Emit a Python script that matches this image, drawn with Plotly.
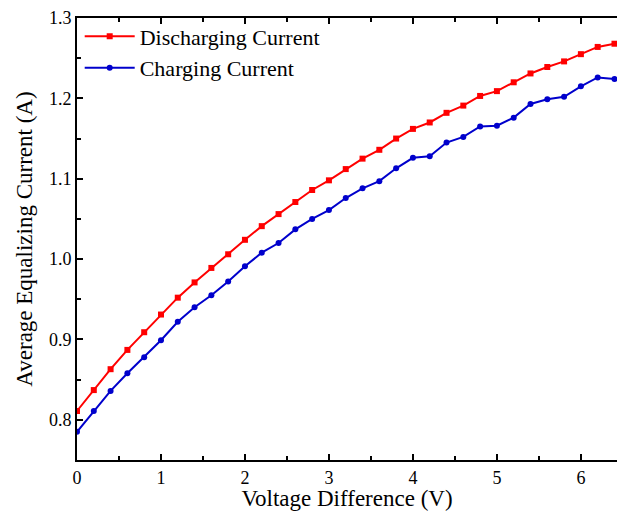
import plotly.graph_objects as go

voltage = [0.0, 0.2, 0.4, 0.6, 0.8, 1.0, 1.2, 1.4, 1.6, 1.8, 2.0, 2.2, 2.4, 2.6, 2.8,
           3.0, 3.2, 3.4, 3.6, 3.8, 4.0, 4.2, 4.4, 4.6, 4.8, 5.0, 5.2, 5.4, 5.6, 5.8,
           6.0, 6.2, 6.4]
discharging = [0.811, 0.837, 0.863, 0.887, 0.909, 0.931, 0.952, 0.971, 0.989, 1.006,
               1.024, 1.041, 1.056, 1.071, 1.086, 1.098, 1.112, 1.125, 1.136, 1.150,
               1.162, 1.170, 1.182, 1.191, 1.203, 1.209, 1.220, 1.231, 1.239, 1.246,
               1.255, 1.264, 1.268]
charging = [0.785, 0.811, 0.836, 0.858, 0.878, 0.899, 0.922, 0.940, 0.955, 0.972,
            0.991, 1.008, 1.020, 1.037, 1.050, 1.061, 1.076, 1.088, 1.097, 1.113,
            1.126, 1.128, 1.145, 1.152, 1.165, 1.166, 1.176, 1.193, 1.199, 1.202,
            1.215, 1.226, 1.224]

FONT = "Liberation Serif"

fig = go.Figure()
fig.add_trace(go.Scatter(x=voltage, y=discharging, mode="lines+markers",
                         name="Discharging Current",
                         line=dict(color="#ff0000", width=2),
                         marker=dict(symbol="square", size=6, color="#ff0000")))
fig.add_trace(go.Scatter(x=voltage, y=charging, mode="lines+markers",
                         name="Charging Current",
                         line=dict(color="#0000cc", width=2),
                         marker=dict(symbol="circle", size=6, color="#0000cc")))

fig.update_layout(
    width=617, height=511,
    margin=dict(l=77, r=0, t=18, b=51),
    paper_bgcolor="white", plot_bgcolor="white",
    font=dict(family=FONT, color="black", size=18),
    showlegend=True,
    legend=dict(x=0.005, y=1.006, xanchor="left", yanchor="top",
                bgcolor="rgba(0,0,0,0)", font=dict(family=FONT, size=22),
                tracegroupgap=0, itemwidth=50),
    xaxis=dict(range=[0, 6.43], tickmode="array", tickvals=[0, 1, 2, 3, 4, 5, 6],
               ticks="inside", ticklen=6, tickwidth=1.5, tickcolor="black",
               showline=True, linecolor="black", linewidth=2, mirror="ticks",
               showgrid=False, zeroline=False,
               minor=dict(dtick=0.5, ticks="inside", ticklen=4, tickcolor="black", tickwidth=1.5),
               tickfont=dict(family=FONT, size=18),
               title=dict(text="Voltage Difference (V)", font=dict(family=FONT, size=23), standoff=4)),
    yaxis=dict(range=[0.75, 1.3], tickmode="array",
               tickvals=[0.8, 0.9, 1.0, 1.1, 1.2, 1.3],
               ticktext=["0.8", "0.9", "1.0", "1.1", "1.2", "1.3"],
               ticks="inside", ticklen=6, tickwidth=1.5, tickcolor="black",
               showline=True, linecolor="black", linewidth=2,
               showgrid=False, zeroline=False,
               minor=dict(dtick=0.05, ticks="inside", ticklen=4, tickcolor="black", tickwidth=1.5),
               tickfont=dict(family=FONT, size=18),
               title=dict(text="Average Equalizing Current (A)", font=dict(family=FONT, size=23), standoff=10)),
)

fig.write_html("out.html")
